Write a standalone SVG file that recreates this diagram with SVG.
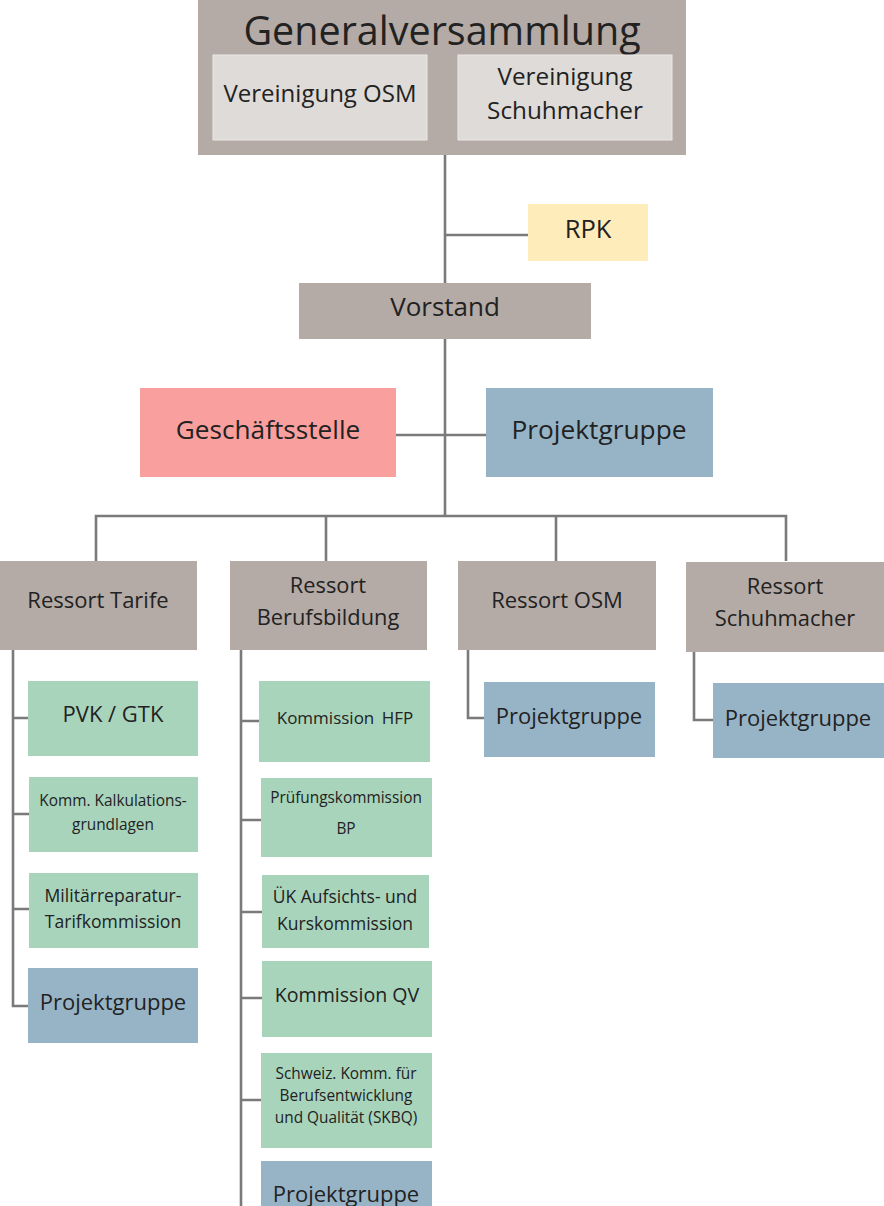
<svg xmlns="http://www.w3.org/2000/svg" width="884" height="1206" viewBox="0 0 884 1206">
<style>
text{font-family:"Open Sans","Noto Sans","Liberation Sans",sans-serif;fill:#222;text-anchor:middle}
.grey{fill:#b4aaa6}
.light{fill:#dfdbd8;stroke:#ebe8e6;stroke-width:1}
.yellow{fill:#feecbb}
.pink{fill:#f9a09f}
.blue{fill:#97b4c7}
.green{fill:#a8d4bc}
.con{fill:none;stroke:#7a7a7a;stroke-width:2.6}
</style>
<g id="connectors">
<path class="con" d="M445 155V516M445 235H528M396 435H486"/>
<path class="con" d="M96 561V516H786V561M326 516V561M556 516V561"/>
<path class="con" d="M13 650V1006H28M13 718H28M13 814H29M13 909H29"/>
<path class="con" d="M241 650V1206M241 721H259M241 820H261M241 912H262M241 998H262M241 1100H261"/>
<path class="con" d="M468 650V718H484M694 652V720H713"/>
</g>
<g id="generalversammlung">
<rect class="grey" x="198" y="0" width="488" height="155"/>
<text x="442" y="45" font-size="39.5">Generalversammlung</text>
</g>
<g id="vereinigung-osm">
<rect class="light" x="213" y="55" width="214" height="85"/>
<text x="320" y="102" font-size="24">Vereinigung OSM</text>
</g>
<g id="vereinigung-schuhmacher">
<rect class="light" x="458" y="55" width="214" height="85"/>
<text x="565" y="85" font-size="24.3">Vereinigung</text>
<text x="565" y="119" font-size="24.3">Schuhmacher</text>
</g>
<g id="rpk">
<rect class="yellow" x="528" y="204" width="120" height="57"/>
<text x="588" y="238" font-size="25.5">RPK</text>
</g>
<g id="vorstand">
<rect class="grey" x="299" y="283" width="292" height="56"/>
<text x="445" y="316" font-size="26">Vorstand</text>
</g>
<g id="geschaeftsstelle">
<rect class="pink" x="140" y="388" width="256" height="89"/>
<text x="268" y="439" font-size="26.2">Geschäftsstelle</text>
</g>
<g id="projektgruppe-vorstand">
<rect class="blue" x="486" y="388" width="227" height="89"/>
<text x="599" y="439" font-size="26.3">Projektgruppe</text>
</g>
<g id="ressort-tarife">
<rect class="grey" x="0" y="561" width="197" height="89"/>
<text x="98" y="608" font-size="22">Ressort Tarife</text>
</g>
<g id="ressort-berufsbildung">
<rect class="grey" x="230" y="561" width="197" height="89"/>
<text x="328" y="593" font-size="21.8">Ressort</text>
<text x="328" y="625" font-size="21.8">Berufsbildung</text>
</g>
<g id="ressort-osm">
<rect class="grey" x="458" y="561" width="198" height="89"/>
<text x="557" y="608" font-size="22">Ressort OSM</text>
</g>
<g id="ressort-schuhmacher">
<rect class="grey" x="686" y="562" width="198" height="90"/>
<text x="785" y="594" font-size="21.9">Ressort</text>
<text x="785" y="626" font-size="21.9">Schuhmacher</text>
</g>
<g id="pvk-gtk">
<rect class="green" x="28" y="681" width="170" height="75"/>
<text x="113" y="722" font-size="22">PVK / GTK</text>
</g>
<g id="komm-kalkulation">
<rect class="green" x="29" y="777" width="169" height="75"/>
<text x="113" y="806" font-size="15.4">Komm. Kalkulations-</text>
<text x="113" y="830" font-size="15.4">grundlagen</text>
</g>
<g id="militaerreparatur">
<rect class="green" x="29" y="873" width="169" height="75"/>
<text x="113" y="902" font-size="17.6">Militärreparatur-</text>
<text x="113" y="928" font-size="17.6">Tarifkommission</text>
</g>
<g id="projektgruppe-tarife">
<rect class="blue" x="28" y="968" width="170" height="75"/>
<text x="113" y="1010" font-size="22">Projektgruppe</text>
</g>
<g id="kommission-hfp">
<rect class="green" x="259" y="681" width="171" height="81"/>
<text x="345" y="724" font-size="17" word-spacing="3">Kommission HFP</text>
</g>
<g id="pruefungskommission-bp">
<rect class="green" x="261" y="778" width="171" height="79"/>
<text x="346" y="803" font-size="15.4">Prüfungskommission</text>
<text x="346" y="834" font-size="15.4">BP</text>
</g>
<g id="uek-kommission">
<rect class="green" x="262" y="875" width="167" height="73"/>
<text x="345" y="903" font-size="17.5">ÜK Aufsichts- und</text>
<text x="345" y="930" font-size="17.5">Kurskommission</text>
</g>
<g id="kommission-qv">
<rect class="green" x="262" y="961" width="170" height="76"/>
<text x="347" y="1002" font-size="19.6">Kommission QV</text>
</g>
<g id="skbq">
<rect class="green" x="261" y="1053" width="171" height="95"/>
<text x="346" y="1079" font-size="15.4">Schweiz. Komm. für</text>
<text x="346" y="1101" font-size="15.4">Berufsentwicklung</text>
<text x="346" y="1123" font-size="15.4">und Qualität (SKBQ)</text>
</g>
<g id="projektgruppe-berufsbildung">
<rect class="blue" x="261" y="1161" width="171" height="50"/>
<text x="346" y="1202" font-size="22">Projektgruppe</text>
</g>
<g id="projektgruppe-osm">
<rect class="blue" x="484" y="682" width="171" height="75"/>
<text x="569" y="724" font-size="22">Projektgruppe</text>
</g>
<g id="projektgruppe-schuhmacher">
<rect class="blue" x="713" y="683" width="171" height="75"/>
<text x="798" y="726" font-size="22">Projektgruppe</text>
</g>
</svg>
